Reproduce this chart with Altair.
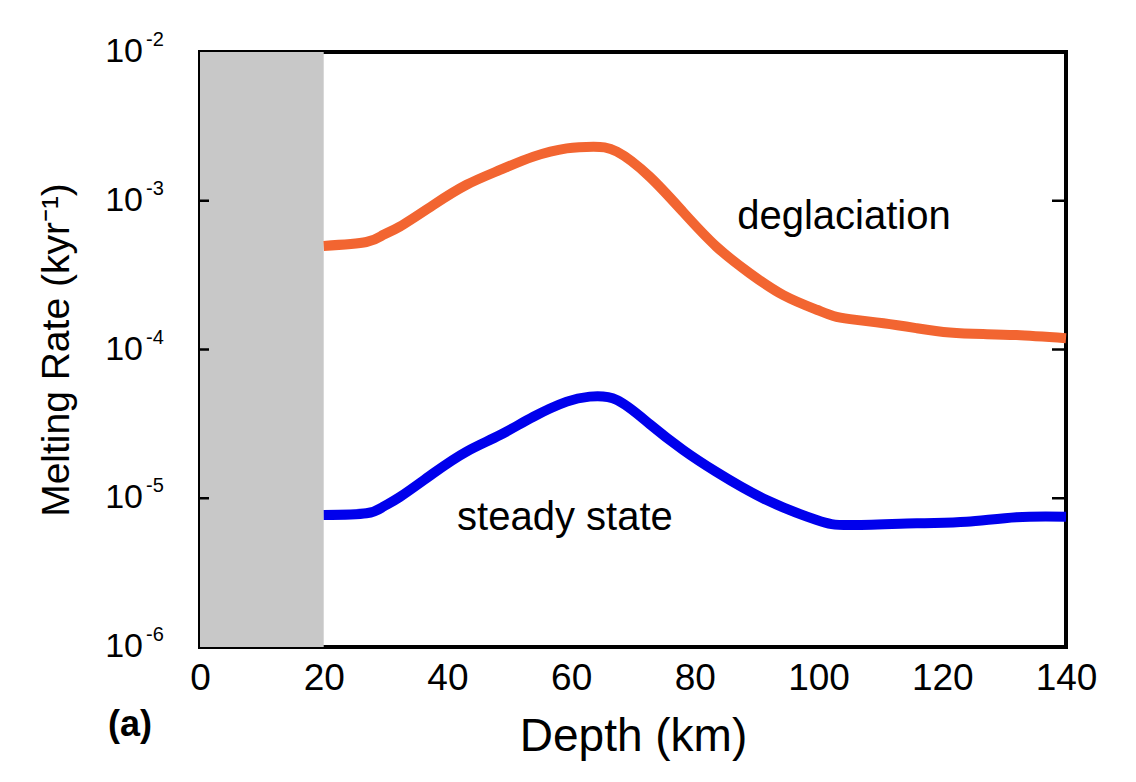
import altair as alt
import pandas as pd

# ---- data ----
deg_depth = [20, 26.9, 29.6, 32.3, 37.7, 43.1, 48.5, 53.9, 59.3, 63.6, 67.4, 72.7, 78.1,
             83.5, 88.9, 94.3, 99.7, 102.4, 105.1, 110.5, 115.9, 121.2, 126.6, 132, 140]
deg_rate = [4.97e-4, 5.28e-4, 5.89e-4, 6.70e-4, 9.35e-4, 1.28e-3, 1.61e-3, 1.98e-3,
            2.25e-3, 2.31e-3, 2.14e-3, 1.45e-3, 8.4e-4, 4.91e-4, 3.25e-4, 2.32e-4,
            1.85e-4, 1.68e-4, 1.60e-4, 1.50e-4, 1.39e-4, 1.30e-4, 1.27e-4, 1.25e-4, 1.19e-4]

ss_depth = [20, 26.9, 29.6, 32.3, 37.7, 43.1, 48.5, 53.9, 59.3, 63, 67.4, 72.7, 78.1,
            83.5, 91.6, 99.7, 105.1, 115.9, 123.9, 132, 140]
ss_rate = [7.71e-6, 7.92e-6, 8.77e-6, 1.02e-5, 1.47e-5, 2.06e-5, 2.66e-5, 3.53e-5,
           4.46e-5, 4.82e-5, 4.58e-5, 3.15e-5, 2.11e-5, 1.50e-5, 9.72e-6, 7.14e-6,
           6.60e-6, 6.79e-6, 6.95e-6, 7.46e-6, 7.52e-6]

shade_x = [0]
shade_x2 = [20]

x_ticks = [0, 20, 40, 60, 80, 100, 120, 140]
y_ticks = [1e-2, 1e-3, 1e-4, 1e-5, 1e-6]
y_exps = ["-2", "-3", "-4", "-5", "-6"]
inner_ticks = [1e-3, 1e-4, 1e-5]

labels = ["deglaciation", "steady state"]
label_x = [104.1, 59.0]
label_y = [6.46e-4, 6.12e-6]

W, H = 866, 595
FONT = "Liberation Sans"

deg_df = pd.DataFrame({"depth": deg_depth, "rate": deg_rate})
ss_df = pd.DataFrame({"depth": ss_depth, "rate": ss_rate})
shade_df = pd.DataFrame({"x": shade_x, "x2": shade_x2, "y": [1e-6], "y2": [1e-2]})
ytick_df = pd.DataFrame({"v": y_ticks, "e": y_exps})
inner_df = pd.DataFrame({"v": inner_ticks})
lab_df = pd.DataFrame({"t": labels, "x": label_x, "y": label_y})

xscale = alt.Scale(domain=[0, 140], nice=False, zero=False)
yscale = alt.Scale(type="log", domain=[1e-6, 1e-2], nice=False)

xenc = alt.X("x:Q", scale=xscale,
             axis=alt.Axis(values=x_ticks, title="Depth (km)", grid=False, ticks=False,
                           domain=False, labelFontSize=37, labelFont=FONT,
                           labelColor="black", labelPadding=13, labelFlush=False,
                           titleFont=FONT, titleFontSize=46, titleFontWeight="normal",
                           titleColor="black", titleX=W / 2, titleY=103,
                           titleBaseline="alphabetic", titleAlign="center"))
yenc = alt.Y("y:Q", scale=yscale,
             axis=alt.Axis(title="Melting Rate (kyr⁻¹)", grid=False, ticks=False,
                           domain=False, labels=False, titleFont=FONT, titleFontSize=39,
                           titleFontWeight="normal", titleColor="black",
                           titleX=-132, titleY=H / 2, titleBaseline="alphabetic",
                           titleAlign="center"))

shade = alt.Chart(shade_df).mark_rect(color="#c8c8c8").encode(
    x=xenc, x2="x2:Q", y=yenc, y2="y2:Q")

deg = alt.Chart(deg_df).mark_line(color="#f26531", strokeWidth=10,
                                  interpolate="natural", strokeCap="butt").encode(
    x=alt.X("depth:Q", scale=xscale), y=alt.Y("rate:Q", scale=yscale))
ss = alt.Chart(ss_df).mark_line(color="#0000ec", strokeWidth=10,
                                interpolate="natural", strokeCap="butt").encode(
    x=alt.X("depth:Q", scale=xscale), y=alt.Y("rate:Q", scale=yscale))

texts = alt.Chart(lab_df).mark_text(font=FONT, fontSize=40, color="black",
                                    align="center", baseline="alphabetic").encode(
    x=alt.X("x:Q", scale=xscale), y=alt.Y("y:Q", scale=yscale), text="t:N")

ylab10 = alt.Chart(ytick_df).mark_text(font=FONT, fontSize=34, color="black",
                                       align="right", baseline="middle").encode(
    x=alt.value(-57), y=alt.Y("v:Q", scale=yscale), text=alt.value("10"))
ylabexp = alt.Chart(ytick_df).mark_text(font=FONT, fontSize=20, color="black",
                                        align="left", baseline="middle", dy=-12).encode(
    x=alt.value(-54), y=alt.Y("v:Q", scale=yscale), text="e:N")

lticks = alt.Chart(inner_df).mark_rule(color="black", strokeWidth=2.5).encode(
    x=alt.value(0), x2=alt.value(9), y=alt.Y("v:Q", scale=yscale))
rticks = alt.Chart(inner_df).mark_rule(color="black", strokeWidth=2.5).encode(
    x=alt.value(W - 14), x2=alt.value(W), y=alt.Y("v:Q", scale=yscale))

panel = alt.Chart(pd.DataFrame({"t": ["(a)"]})).mark_text(
    font=FONT, fontSize=36, fontWeight="bold", color="black",
    align="center", baseline="middle").encode(
    x=alt.value(-70), y=alt.value(673), text="t:N")

chart = alt.layer(shade, deg, ss, texts, ylab10, ylabexp, lticks, rticks, panel).properties(
    width=W, height=H,
    autosize=alt.AutoSizeParams(type="none"),
    padding={"left": 192, "top": 44, "right": 60, "bottom": 120},
    background="white",
).configure_view(stroke="black", strokeWidth=4)

chart.save("out.html", embed_options={"renderer": "svg", "actions": False})
